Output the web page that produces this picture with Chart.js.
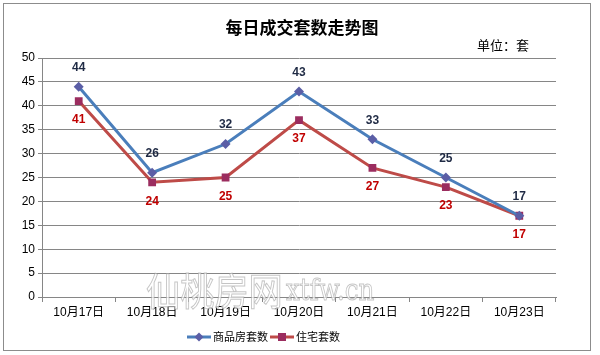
<!DOCTYPE html>
<html><head><meta charset="utf-8">
<script src="https://cdn.jsdelivr.net/npm/chart.js@4/dist/chart.umd.min.js"></script>
<style>
html,body{margin:0;padding:0;background:#fff;}
#wrap{position:absolute;left:0;top:0;width:600px;height:355px;}
#box{position:absolute;left:3px;top:3px;width:586px;height:346px;border:1px solid #8c8c8c;background:#fff;}
canvas{position:absolute;left:0;top:0;}
</style></head>
<body>
<div id="wrap"><div id="box"></div><canvas id="c" width="600" height="355"></canvas></div>
<script>
const categories = ['10月17日','10月18日','10月19日','10月20日','10月21日','10月22日','10月23日'];
const seriesCommercial = [44,26,32,43,33,25,17];
const seriesResidential = [41,24,25,37,27,23,17];
const seriesNames = ['商品房套数','住宅套数'];
const chartTitle = '每日成交套数走势图';
const unitText = '单位：套';
const watermark1 = '仙桃房网';
const watermark2 = 'xtfw.cn';

const FONT = '"Liberation Sans","Noto Sans CJK SC",sans-serif';

const decor = {
  id:'decor',
  afterDatasetsDraw(chart){
    const ctx = chart.ctx;
    const specs = [{off:-19,color:'#1f2a44'},{off:19,color:'#c00000'}];
    chart.data.datasets.forEach((ds,i)=>{
      const meta = chart.getDatasetMeta(i);
      ctx.save();
      ctx.font = 'bold 12px ' + FONT;
      ctx.fillStyle = specs[i].color;
      ctx.textAlign='center'; ctx.textBaseline='middle';
      meta.data.forEach((pt,j)=>{
        ctx.fillText(String(ds.data[j]), pt.x, pt.y + specs[i].off);
      });
      ctx.restore();
    });
    // watermark
    ctx.save();
    ctx.textBaseline='alphabetic';
    ctx.lineWidth=1;
    ctx.strokeStyle='rgba(150,150,150,0.55)';
    ctx.fillStyle='rgba(255,255,255,0.75)';
    ctx.save();
    ctx.translate(146,305); ctx.scale(0.9,1);
    ctx.font='38px "Noto Sans CJK SC",sans-serif';
    ctx.fillText(watermark1,0,0); ctx.strokeText(watermark1,0,0);
    ctx.restore();
    ctx.save();
    ctx.translate(286,300); ctx.scale(0.82,1);
    ctx.font='30px "DejaVu Serif",serif';
    ctx.fillText(watermark2,0,0); ctx.strokeText(watermark2,0,0);
    ctx.restore();
    ctx.restore();
  },
  afterDraw(chart){
    const ctx = chart.ctx;
    ctx.save();
    ctx.fillStyle='#000';
    ctx.textBaseline='middle';
    ctx.textAlign='center';
    ctx.font='bold 17px "Noto Sans CJK SC",sans-serif';
    ctx.fillText(chartTitle, 302, 28);
    ctx.font='13px "Noto Sans CJK SC",sans-serif';
    ctx.textAlign='left';
    ctx.fillText(unitText, 477, 45);
    // legend
    const items=[{x:187,c:'#4a7ebb',m:'#5b5ea6',shape:'d',t:seriesNames[0]},{x:270,c:'#be4b48',m:'#9b2d5f',shape:'s',t:seriesNames[1]}];
    items.forEach(it=>{
      const y=337;
      ctx.strokeStyle=it.c; ctx.lineWidth=3;
      ctx.beginPath(); ctx.moveTo(it.x,y); ctx.lineTo(it.x+24,y); ctx.stroke();
      ctx.fillStyle=it.m;
      const cx=it.x+12;
      if(it.shape==='d'){ctx.beginPath();ctx.moveTo(cx,y-4.5);ctx.lineTo(cx+4.5,y);ctx.lineTo(cx,y+4.5);ctx.lineTo(cx-4.5,y);ctx.closePath();ctx.fill();}
      else{ctx.fillRect(cx-4,y-4,8,8);}
      ctx.fillStyle='#000';
      ctx.font='11px "Noto Sans CJK SC",sans-serif';
      ctx.textAlign='left';
      ctx.fillText(it.t, it.x+26, y);
    });
    ctx.restore();
  }
};

new Chart(document.getElementById('c'),{
  type:'line',
  data:{
    labels:categories,
    datasets:[
      {label:seriesNames[0],data:seriesCommercial,borderColor:'#4a7ebb',backgroundColor:'#5b5ea6',borderWidth:3,pointStyle:'rectRot',pointRadius:5,pointHoverRadius:5,pointBorderWidth:0,tension:0},
      {label:seriesNames[1],data:seriesResidential,borderColor:'#be4b48',backgroundColor:'#9b2d5f',borderWidth:3,pointStyle:'rect',pointRadius:5.5,pointHoverRadius:5.5,pointBorderWidth:0,tension:0}
    ]
  },
  options:{
    responsive:false,animation:false,
    layout:{padding:{left:0,right:44,top:58,bottom:37}},
    plugins:{legend:{display:false},title:{display:false},tooltip:{enabled:false}},
    scales:{
      x:{
        offset:true,
        grid:{offset:true,drawOnChartArea:false,drawTicks:true,tickLength:5,color:'#868686'},
        border:{color:'#868686',width:1},
        ticks:{color:'#000',font:{size:12,family:FONT},padding:3,maxRotation:0},
        afterFit(s){s.height=21;}
      },
      y:{
        min:0,max:50,
        ticks:{stepSize:5,color:'#000',font:{size:12,family:FONT},padding:3},
        grid:{color:'#868686',tickLength:4},
        border:{color:'#868686',width:1},
        afterFit(s){s.width=42;}
      }
    }
  },
  plugins:[decor]
});
</script>
</body></html>
